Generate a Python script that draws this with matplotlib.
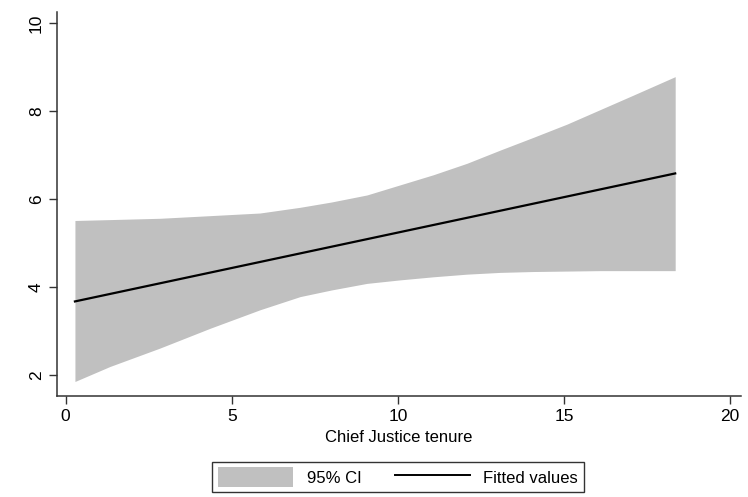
import numpy as np
import matplotlib.pyplot as plt
from matplotlib.patches import Patch
from matplotlib.lines import Line2D

plt.rcParams['font.family'] = ['Liberation Sans', 'DejaVu Sans']

# 95% CI band
ci_x = [0.28, 1.33, 2.84, 4.35, 5.85, 7.06, 8.0, 9.07, 10.07, 11.07,
        12.08, 13.08, 14.08, 15.09, 16.09, 17.09, 18.35]
ci_upper = [5.51, 5.53, 5.56, 5.62, 5.68, 5.81, 5.93, 6.09, 6.32, 6.55,
            6.81, 7.11, 7.40, 7.70, 8.03, 8.36, 8.78]
ci_lower = [1.85, 2.19, 2.61, 3.06, 3.48, 3.78, 3.93, 4.08, 4.16, 4.23,
            4.29, 4.33, 4.35, 4.36, 4.37, 4.37, 4.37]

# fitted line endpoints
fit_x = [0.28, 18.35]
fit_y = [3.67, 6.58]

xticks = [0, 5, 10, 15, 20]
yticks = [2, 4, 6, 8, 10]

fig = plt.figure(figsize=(7.48, 4.97), dpi=100)
ax = fig.add_axes([0.0762, 0.2032, 0.9144, 0.7727])

band_col = '#c0c0c0'
ax.fill_between(ci_x, ci_lower, ci_upper, color=band_col, lw=0)
ax.plot(fit_x, fit_y, color='black', lw=1.6)

ax.set_xlim(-0.26, 20.33)
ax.set_ylim(1.52, 10.25)
ax.set_xticks(xticks)
ax.set_yticks(yticks)
ax.tick_params(labelsize=12.5, length=6, width=1, direction='out', color='#333333')
for lab in ax.get_yticklabels():
    lab.set_rotation(90)
    lab.set_va('center')
for s in ['top', 'right']:
    ax.spines[s].set_visible(False)
for s in ['left', 'bottom']:
    ax.spines[s].set_linewidth(1.1)
    ax.spines[s].set_color('#333333')

ax.set_xlabel('Chief Justice tenure', fontsize=12, labelpad=4)

handles = [Patch(facecolor=band_col, edgecolor='none'),
           Line2D([0], [0], color='black', lw=1.4)]
leg = fig.legend(handles, ['95% CI', 'Fitted values'], loc='center',
                 bbox_to_anchor=(398 / 748, 1 - 477 / 497), ncol=2,
                 fontsize=12, frameon=True, fancybox=False,
                 handlelength=4.5, handleheight=1.4, columnspacing=2.0,
                 borderpad=0.35, handletextpad=0.8)
leg.get_frame().set_edgecolor('black')
leg.get_frame().set_linewidth(1.0)

fig.savefig('out.png', dpi=100)
